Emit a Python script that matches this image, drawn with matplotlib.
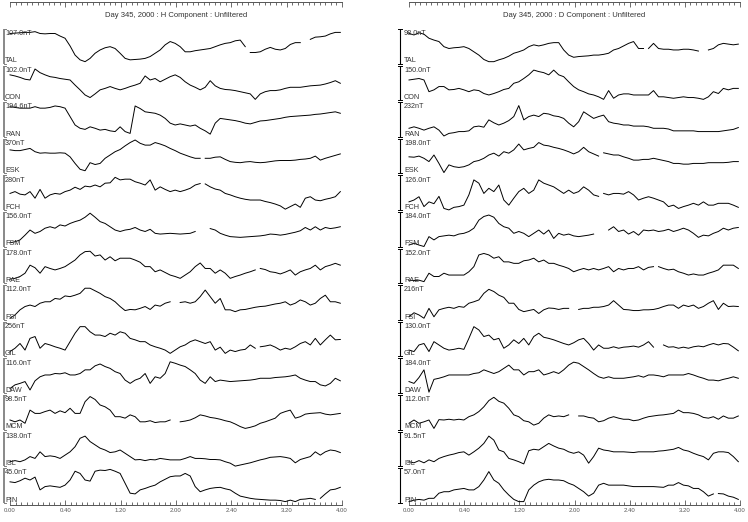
import numpy as np
import matplotlib
matplotlib.use('Agg')
import matplotlib.pyplot as plt
from matplotlib.ticker import FixedLocator, MultipleLocator

plt.rcParams['font.family'] = ['Liberation Sans', 'DejaVu Sans']

# ---------------- data ----------------
stations = ['TAL', 'CON', 'RAN', 'ESK', 'FCH', 'FSM', 'RAE', 'FSI', 'GIL', 'DAW', 'MCM', 'ISL', 'PIN']
tick_labels = ['0.00', '0.40', '1.20', '2.00', '2.40', '3.20', '4.00']

h_title = 'Day 345, 2000 : H Component : Unfiltered'
d_title = 'Day 345, 2000 : D Component : Unfiltered'

h_scales = ['107.0nT', '102.0nT', '194.6nT', '370nT', '280nT', '156.0nT', '178.0nT',
            '112.0nT', '256nT', '116.0nT', '98.5nT', '138.0nT', '45.0nT']
d_scales = ['98.0nT', '150.0nT', '232nT', '198.0nT', '126.0nT', '184.0nT', '152.0nT',
            '216nT', '130.0nT', '184.0nT', '112.0nT', '91.5nT', '57.0nT']

nan = np.nan
# trace values in percent of each station's scale bar.
# *_main: 34 regular samples; *_mid: 33 samples half-way between them.
h_TAL_main = [85, 87, 88, 85, 85, 78, 51, 13, 17, 40, 49, 31, 13, 15, 22, 40, 63, 49, 35, 40, 44, 54, 60, 67, 33, 35, 47, 40, 55, 60, 69, 76, 84, 88]
h_TAL_mid = [86, 88, 90, 84, 85, 72, 26, 8, 31, 46, 44, 17, 14, 17, 31, 54, 58, 35, 38, 42, 49, 58, 65, 49, 33, 42, 42, 44, 60, nan, 75, 78, 88]
h_CON_main = [72, 65, 58, 78, 67, 62, 58, 31, 10, 31, 40, 31, 40, 49, 58, 53, 67, 65, 44, 31, 56, 35, 31, 26, 20, 20, 29, 31, 38, 38, 42, 44, 51, 49]
h_CON_mid = [69, 60, 88, 72, 65, 60, 44, 17, 20, 35, 35, 35, 44, 69, 62, 60, 72, 53, 38, 38, 42, 32, 29, 23, 5, 26, 29, 35, 38, 40, 43, 47, 56]
h_RAN_main = [85, 81, 81, 81, 83, 85, 58, 26, 30, 21, 19, 30, 12, 80, 69, 62, 40, 38, 32, 26, 10, 53, 49, 44, 38, 46, 49, 53, 58, 60, 62, 65, 69, 67]
h_RAN_mid = [83, 81, 85, 81, 87, 81, 35, 23, 26, 23, 17, 17, 87, 71, 67, 53, 35, 35, 35, 19, 40, 51, 47, 40, 42, 47, 51, 56, 59, 61, 64, 67, 71]
h_ESK_main = [67, 65, 71, 58, 58, 59, 48, 14, 32, 30, 53, 68, 87, 85, 80, 83, 71, 58, 48, 44, 44, 48, 35, 32, 35, 32, 35, 38, 38, 41, 44, 39, 48, 56]
h_ESK_mid = [65, 68, 62, 59, 58, 58, 30, 10, 27, 44, 62, 78, 94, 80, 87, 78, 65, 53, 44, 44, 47, 41, 33, 34, 33, 33, 37, 38, 39, 42, 50, 44, 52]
h_FCH_main = [48, 46, 53, 59, 44, 46, 57, 59, 66, 66, 77, 85, 87, 76, 85, 66, 53, 53, 62, 75, 66, 57, 44, 35, 30, 30, 23, 14, 12, 10, 39, 28, 35, 53]
h_FCH_mid = [53, 44, 35, 35, 48, 53, 65, 68, 71, 76, 92, 87, 80, 71, 57, 59, 57, 57, 71, 74, 60, 48, 39, 32, 30, 26, 19, 5, 19, 35, 30, 32, 39]
h_FSM_main = [13, 21, 48, 44, 57, 62, 66, 75, 94, 71, 57, 44, 50, 48, 50, 37, 39, 37, 39, nan, 52, 39, 30, 28, 30, 32, 37, 34, 39, 46, 48, 48, 52, 57]
h_FSM_mid = [16, 34, 39, 53, 53, 59, 71, 83, 83, 66, 48, 48, 55, 44, 39, 38, 38, 38, 44, nan, 48, 34, 29, 29, 31, 34, 36, 36, 42, 55, 57, 55, 54]
h_RAE_main = [14, 21, 52, 30, 43, 43, 57, 80, 90, 80, 75, 71, 71, 60, 48, 39, 25, 16, 34, 58, 43, 39, 16, 25, 34, 43, 34, 28, 39, 34, 43, 39, 52, 52]
h_RAE_mid = [16, 30, 45, 48, 39, 48, 66, 89, 77, 66, 64, 71, 66, 48, 34, 32, 21, 25, 48, 43, 30, 30, 21, 30, 39, 40, 32, 33, 25, 39, 52, 48, 57]
h_FSI_main = [7, 30, 43, 48, 52, 59, 66, 75, 89, 75, 61, 39, 31, 34, 31, 40, 52, 50, 48, 66, 66, 61, 30, 30, 34, 39, 43, 48, 43, 57, 43, 61, 52, 48]
h_FSI_mid = [16, 39, 39, 52, 61, 68, 70, 89, 82, 66, 52, 28, 30, 39, 43, 48, nan, 52, 52, 84, 48, 30, 25, 31, 37, 40, 46, 52, 48, 52, 48, 70, 52]
h_GIL_main = [16, 38, 52, 25, 34, 25, 43, 84, 70, 61, 66, 70, 52, 43, 34, 25, 11, 29, 43, 43, 43, 28, 20, 20, 34, 29, 34, 20, 22, 38, 34, 34, 61, 49]
h_GIL_mid = [25, 20, 57, 38, 29, 20, 66, 84, 61, 57, 61, 66, 48, 43, 29, 20, 20, 34, 48, 38, 20, 11, 16, 22, 25, 31, 28, 25, 29, 43, 52, 48, 48]
h_DAW_main = [15, 29, 11, 47, 52, 55, 52, 56, 66, 82, 70, 56, 29, 43, 29, 43, 88, 79, 66, 38, 47, 38, 34, 36, 38, 43, 43, 46, 49, 43, 34, 25, 29, 36]
h_DAW_mid = [25, 34, 36, 52, 56, 58, 52, 66, 77, 75, 61, 38, 38, 56, 47, 56, 84, 75, 56, 29, 34, 36, 35, 37, 40, 43, 45, 47, 52, 38, 34, 22, 43]
h_MCM_main = [29, 29, 56, 47, 56, 54, 61, 47, 93, 70, 56, 38, 43, 24, 27, 24, 29, 24, 29, 43, 36, 31, 24, 11, 9, 20, 29, 47, 56, 38, 47, 49, 43, 47]
h_MCM_mid = [24, 20, 47, 52, 47, 49, 47, 79, 85, 65, 38, 34, 38, 24, 22, 24, nan, 26, 35, 40, 34, 27, 18, 6, 13, 24, 34, 52, 34, 45, 48, 45, 45]
h_ISL_main = [15, 15, 29, 42, 31, 24, 42, 79, 70, 52, 40, 47, 29, 21, 21, 24, 20, 20, 29, 24, 21, 20, 11, 6, 12, 20, 27, 29, 24, 21, 29, 33, 47, 40]
h_ISL_mid = [18, 20, 24, 29, 29, 33, 56, 85, 61, 47, 42, 38, 20, 18, 20, 22, 20, 24, 24, 23, 21, 15, 3, 9, 16, 23, 28, 27, 12, 25, 42, 42, 45]
h_PIN_main = [60, 63, 65, 38, 49, 45, 65, 83, 62, 92, 94, 83, 29, 38, 47, 60, 74, 76, 76, 33, 42, 45, 38, 21, 15, 12, 10, 9, 10, 12, 15, 15, 38, 45]
h_PIN_mid = [58, 70, 73, 47, 47, 51, 89, 65, 89, 91, 89, 56, 27, 42, 51, 67, 76, 83, 47, 38, 44, 41, 29, 18, 13, 11, 10, 6, 6, 13, 12, 27, 40]

d_TAL_main = [85, 87, 72, 63, 44, 47, 44, 26, 8, 13, 23, 35, 49, 51, 58, 60, 26, 22, 24, 26, 31, 44, 58, 44, 44, 44, 42, 40, 42, 37, 40, 54, 56, 56]
d_TAL_mid = [81, 83, 67, 49, 46, 49, 35, 14, 8, 17, 31, 40, 54, 54, 60, 40, 20, 23, 26, 28, 40, 51, 63, 44, 58, 42, 40, 42, 40, nan, 44, 58, 54]
d_CON_main = [58, 62, 26, 40, 31, 35, 26, 29, 17, 26, 35, 53, 72, 81, 72, 72, 53, 31, 20, 12, 29, 17, 20, 17, 17, 12, 10, 10, 10, 8, 12, 21, 31, 35]
d_CON_mid = [60, 58, 31, 40, 32, 31, 31, 21, 21, 32, 49, 62, 85, 78, 85, 67, 40, 26, 17, 5, 8, 20, 17, 17, 29, 12, 8, 12, 10, 5, 26, 35, 35]
d_RAN_main = [26, 26, 26, 21, 12, 17, 19, 32, 49, 35, 47, 88, 58, 58, 65, 58, 40, 44, 62, 58, 44, 38, 35, 32, 30, 26, 24, 19, 19, 17, 17, 17, 21, 28]
d_RAN_mid = [30, 21, 30, 5, 14, 17, 30, 29, 41, 40, 58, 49, 62, 67, 60, 53, 30, 71, 53, 62, 40, 35, 32, 32, 26, 26, 19, 19, 19, 17, 17, 19, 23]
d_ESK_main = [48, 50, 35, 30, 26, 19, 26, 38, 53, 50, 58, 83, 71, 87, 78, 71, 62, 62, 62, 50, 56, 53, 44, 39, 41, 41, 35, 30, 28, 30, 32, 32, 33, 35]
d_ESK_mid = [47, 44, 53, 5, 21, 21, 35, 44, 58, 62, 67, 67, 74, 80, 74, 67, 56, 74, 56, 59, 53, 48, 39, 41, 44, 38, 30, 28, 30, 30, 32, 32, 35]
d_FCH_main = [25, 39, 25, 40, 3, 12, 44, 76, 62, 71, 16, 53, 48, 85, 71, 57, 57, 53, 57, 40, 44, 48, 53, 30, 39, 30, 12, 7, 16, 16, 16, 21, 21, 10]
d_FCH_mid = [30, 12, 20, 7, 10, 16, 85, 48, 53, 30, 35, 62, 57, 76, 66, 48, 48, 66, 44, 48, 48, 46, 44, 35, 35, 25, 16, 12, 21, 25, 16, 21, 16]
d_FSM_main = [7, 7, 30, 30, 34, 37, 44, 75, 89, 66, 53, 44, 30, 48, 48, 39, 37, 30, 34, nan, 48, 44, 37, 34, 46, 44, 50, 48, 48, 28, 32, 44, 48, 55]
d_FSM_mid = [12, 3, 21, 32, 32, 39, 53, 85, 83, 57, 39, 39, 39, 37, 25, 34, 32, 32, 37, nan, 57, 48, 44, 48, 48, 46, 44, 53, 39, 34, 39, 53, 53]
d_RAE_main = [11, 11, 30, 21, 25, 25, 34, 80, 80, 75, 61, 57, 66, 61, 57, 52, 43, 39, 39, 39, 48, 43, 43, 48, 46, 48, 39, 34, 25, 25, 30, 39, 52, 43]
d_RAE_mid = [10, 7, 21, 30, 25, 25, 48, 84, 71, 61, 57, 64, 71, 66, 57, 48, 34, 43, 43, 43, 34, 39, 43, 39, 48, 43, 41, 30, 28, 25, 34, 52, 52]
d_FSI_main = [11, 16, 34, 30, 37, 39, 48, 57, 86, 70, 48, 31, 28, 20, 35, 31, 34, 31, 34, 37, 43, 43, 30, 28, 30, 34, 43, 34, 39, 34, 48, 31, 39, 39]
d_FSI_mid = [22, 7, 11, 34, 34, 37, 52, 75, 80, 64, 48, 25, 31, 30, 34, 34, nan, 34, 37, 39, 55, 31, 28, 30, 31, 39, 43, 43, 43, 39, 55, 48, 40]
d_GIL_main = [20, 34, 16, 34, 20, 25, 52, 75, 61, 52, 34, 38, 34, 66, 52, 43, 34, 48, 38, 34, 25, 25, 29, 28, 43, nan, 28, 25, 25, 31, 34, 34, 37, 18]
d_GIL_mid = [16, 38, 43, 25, 22, 22, 84, 57, 48, 25, 48, 52, 57, 55, 48, 38, 40, 52, 20, 25, 29, 28, 31, 34, 28, 34, 29, 28, 29, 29, 38, 38, 28]
d_DAW_main = [34, 45, 5, 43, 52, 52, 52, 58, 61, 61, 79, 66, 61, 66, 56, 56, 79, 84, 66, 47, 47, 43, 45, 50, 52, 50, 52, 52, 56, 47, 38, 36, 43, 43]
d_DAW_mid = [29, 66, 40, 47, 52, 52, 56, 66, 56, 70, 66, 52, 61, 52, 61, 66, 87, 75, 56, 43, 43, 43, 47, 46, 52, 47, 52, 52, 52, 43, 38, 40, 47]
d_MCM_main = [20, 20, 29, 30, 31, 31, 38, 52, 82, 80, 61, 38, 24, 20, 43, 40, 43, 40, 36, 24, 34, 34, 31, 29, 38, 42, 45, 56, 49, 43, 34, 31, 34, 40]
d_MCM_mid = [29, 24, 6, 29, 29, 29, 43, 65, 91, 75, 43, 27, 15, 34, 38, 38, nan, 40, 34, 27, 38, 31, 27, 34, 40, 43, 47, 49, 47, 36, 38, 40, 34]
d_ISL_main = [15, 18, 20, 24, 33, 40, 33, 52, 85, 47, 24, 15, 45, 47, 65, 52, 42, 42, 11, 52, 45, 42, 41, 42, 42, 44, 47, 54, 44, 33, 20, 42, 40, 15]
d_ISL_mid = [12, 12, 15, 29, 36, 42, 42, 65, 74, 42, 20, 9, 49, 56, 58, 49, 38, 33, 29, 47, 42, 42, 40, 42, 42, 45, 49, 47, 38, 29, 38, 42, 29]
d_PIN_main = [6, 12, 15, 29, 33, 40, 38, 47, 88, 56, 24, 6, 38, 60, 67, 65, 56, 42, 21, 51, 51, 51, 49, 47, 47, 46, 51, 58, 49, 42, 21, 28, 21, 12]
d_PIN_mid = [10, 10, 15, 33, 38, 42, 38, 65, 65, 38, 12, 6, 51, 65, 65, 63, 51, 33, 29, 56, 51, 51, 47, 47, 47, 45, 51, 51, 42, 33, 27, 27, 18]

h_main = [h_TAL_main, h_CON_main, h_RAN_main, h_ESK_main, h_FCH_main, h_FSM_main, h_RAE_main,
          h_FSI_main, h_GIL_main, h_DAW_main, h_MCM_main, h_ISL_main, h_PIN_main]
h_mid = [h_TAL_mid, h_CON_mid, h_RAN_mid, h_ESK_mid, h_FCH_mid, h_FSM_mid, h_RAE_mid,
         h_FSI_mid, h_GIL_mid, h_DAW_mid, h_MCM_mid, h_ISL_mid, h_PIN_mid]
d_main = [d_TAL_main, d_CON_main, d_RAN_main, d_ESK_main, d_FCH_main, d_FSM_main, d_RAE_main,
          d_FSI_main, d_GIL_main, d_DAW_main, d_MCM_main, d_ISL_main, d_PIN_main]
d_mid = [d_TAL_mid, d_CON_mid, d_RAN_mid, d_ESK_mid, d_FCH_mid, d_FSM_mid, d_RAE_mid,
         d_FSI_mid, d_GIL_mid, d_DAW_mid, d_MCM_mid, d_ISL_mid, d_PIN_mid]

# short data gaps (time, in axis tick units)
h_gaps = {'TAL': [4.29], 'ESK': [3.48], 'FCH': [3.48], 'RAE': [4.47], 'GIL': [4.49], 'PIN': [5.57]}
d_gaps = {'TAL': [4.29], 'ESK': [3.48], 'FCH': [3.48], 'RAE': [4.48], 'PIN': [5.56]}

t_main = np.linspace(0, 5.97, 34)          # sample times in axis tick units
t_mid = (t_main[:-1] + t_main[1:]) / 2.0

# ---------------- layout ----------------
W, H = 748, 522
AX_TOP, AX_BOT = 2, 505
BAND = 36.6
FIRST_BAND_BOTTOM = 64.6


def build(main, mid, gaps):
    x = np.empty(67)
    y = np.empty(67)
    x[0::2], x[1::2] = t_main, t_mid
    y[0::2] = np.asarray(main, float) / 100.0
    y[1::2] = np.asarray(mid, float) / 100.0
    x, y = list(x), list(y)
    for g in gaps:
        idx = int(np.searchsorted(x, g))
        x.insert(idx, g)
        y.insert(idx, np.nan)
    return np.array(x), np.array(y)


fig = plt.figure(figsize=(W / 100, H / 100), dpi=100)
fig.patch.set_facecolor('white')


def panel(left_px, right_px, title, mains, mids, scales, gaps, bar_x_px, bar_color, bar_lw, caps, text_px):
    wpx = right_px - left_px
    ax = fig.add_axes([left_px / W, (H - AX_BOT) / H, wpx / W, (AX_BOT - AX_TOP) / H])
    ax.set_xlim(0, 6)
    ax.set_ylim(0, (AX_BOT - AX_TOP) / BAND)
    ax.set_facecolor('none')
    ytr = ax.get_yaxis_transform()

    def fx(px):
        return (px - left_px) / wpx

    for i, st in enumerate(stations):
        base = (AX_BOT - FIRST_BAND_BOTTOM) / BAND - i
        x, y = build(mains[i], mids[i], gaps.get(st, []))
        ax.plot(x, base + y, color='black', lw=0.7, clip_on=False)
        top = base + 1
        yb, yt = base + 0.03, top - 0.03
        ax.plot([fx(bar_x_px), fx(bar_x_px)], [yb, yt], transform=ytr, color=bar_color,
                lw=bar_lw, clip_on=False, solid_capstyle='butt')
        for yy in (yb, yt):
            ax.plot([fx(bar_x_px + caps[0]), fx(bar_x_px + caps[1])], [yy, yy],
                    transform=ytr, color=bar_color, lw=0.7, clip_on=False)
        ax.text(fx(text_px), top - 0.06, scales[i], transform=ytr, ha='left', va='top',
                fontsize=5.2, color='#333333', clip_on=False)
        ax.text(fx(text_px), base + 0.06, st, transform=ytr, ha='left', va='baseline',
                fontsize=5.2, color='#333333', clip_on=False)

    ax.text(3, (AX_BOT - 16) / BAND, title, ha='center', va='center', fontsize=5.5, color='#333333')

    for side in ('left', 'right'):
        ax.spines[side].set_visible(False)
    for side in ('top', 'bottom'):
        ax.spines[side].set_color('#555555')
        ax.spines[side].set_linewidth(0.7)
    ax.xaxis.set_major_locator(FixedLocator(range(7)))
    ax.set_xticklabels(tick_labels)
    ax.xaxis.set_minor_locator(MultipleLocator(0.1))
    ax.tick_params(axis='x', which='both', top=True, bottom=True, direction='in',
                   colors='#555555', labelsize=4.3, pad=2.5, width=0.6)
    ax.tick_params(axis='x', which='major', length=3.5)
    ax.tick_params(axis='x', which='minor', length=2)
    ax.set_yticks([])
    return ax


panel(10, 342, h_title, h_main, h_mid, h_scales, h_gaps, 3.5, '#7f7f7f', 1.3, (0, 2.5), 5)
panel(409, 740, d_title, d_main, d_mid, d_scales, d_gaps, 400, 'black', 0.8, (-2, 2), 404)

fig.savefig('out.png', dpi=100, facecolor='white')
